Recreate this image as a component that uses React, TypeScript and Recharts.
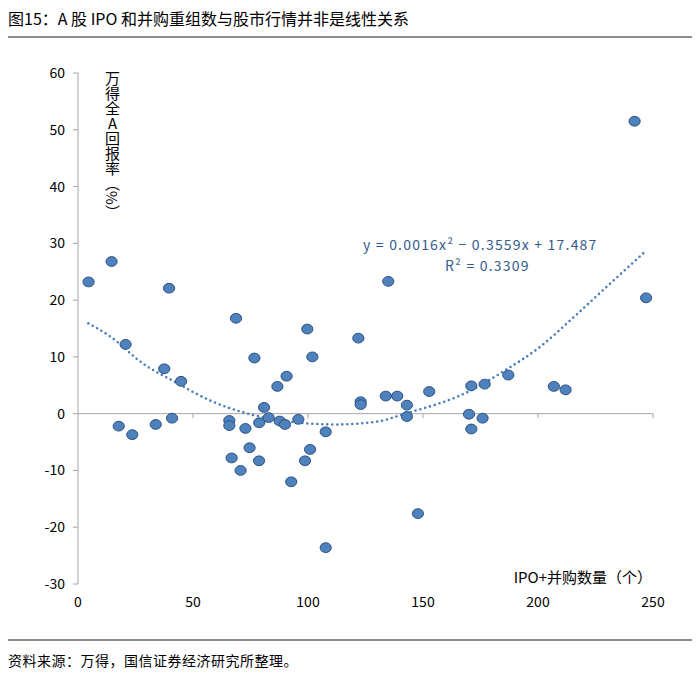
import React from 'react';
import { ComposedChart, XAxis, YAxis, Scatter, Line, ReferenceLine } from 'recharts';

// IPO + M&A count (x) and Wind All-A return % (y)
const ipoMaCount = [
  4.6, 14.6, 17.7, 20.7, 23.6, 33.8, 37.5, 39.6, 40.9, 44.8,
  65.8, 65.8, 66.8, 68.7, 70.7, 72.8, 74.6, 76.7, 78.7, 78.8,
  80.9, 82.9, 86.7, 87.7, 90.0, 90.7, 92.7, 95.8, 98.7, 99.7,
  100.9, 101.9, 107.7, 107.7, 121.9, 122.9, 122.9, 133.8, 134.9, 138.8,
  143.0, 143.0, 147.8, 152.7, 170.0, 171.0, 171.0, 175.9, 176.8, 187.1,
  206.9, 212.0, 242.0, 247.0,
];
const windAReturn = [
  23.2, 26.8, -2.2, 12.2, -3.7, -1.9, 7.9, 22.1, -0.8, 5.7,
  -1.2, -2.1, -7.8, 16.8, -10.0, -2.6, -6.0, 9.8, -8.3, -1.6,
  1.1, -0.7, 4.8, -1.3, -1.9, 6.6, -12.0, -1.0, -8.3, 14.9,
  -6.3, 10.0, -3.2, -23.6, 13.3, 2.1, 1.6, 3.1, 23.3, 3.1,
  1.5, -0.5, -17.6, 3.9, -0.1, 4.9, -2.7, -0.8, 5.2, 6.8,
  4.8, 4.2, 51.5, 20.4,
];

// polynomial trendline
const trendX = [4.5, 14, 28, 43, 57, 73, 79, 99, 112, 130, 143, 157, 165, 186, 201, 215, 230, 247];
const trendY = [15.9, 13.6, 8.9, 5.4, 2.4, 0.1, -0.5, -1.7, -1.9, -1.4, 0.1, 1.8, 3.0, 7.7, 11.8, 16.8, 22.4, 28.7];

const xTicks = [0, 50, 100, 150, 200, 250];
const yTicks = [-30, -20, -10, 0, 10, 20, 30, 40, 50, 60];
const xTickMarks = [50, 100, 150, 200, 250];

const titleText = '图15：A 股 IPO 和并购重组数与股市行情并非是线性关系';
const sourceText = '资料来源：万得，国信证券经济研究所整理。';
const equationText = 'y = 0.0016x² − 0.3559x + 17.487';
const r2Text = 'R² = 0.3309';
const xLabel = 'IPO+并购数量（个）';

const points = ipoMaCount.map((x, i) => ({ x, y: windAReturn[i] }));
const trend = trendX.map((x, i) => ({ x, t: trendY[i] }));

const FONT = '"Noto Sans CJK SC", "Noto Sans", sans-serif';
const AXIS = '#A6A6A6';

const Dot = (p: any) => (
  <ellipse cx={p.cx} cy={p.cy} rx={5.6} ry={4.9} fill="#4F81BD" stroke="#2C5282" strokeWidth={1} />
);

export default function App() {
  return (
    <div style={{ position: 'relative', left: -8, top: -8, width: 700, height: 677, background: '#fff', fontFamily: FONT, overflow: 'hidden' }}>
      <div style={{ position: 'absolute', left: 8, top: 7, fontSize: 16, lineHeight: '22px', color: '#000', whiteSpace: 'nowrap' }}>
        {titleText}
      </div>
      <div style={{ position: 'absolute', left: 0, top: 36, width: 698, height: 2, background: '#8C8C8C' }} />

      <div style={{ position: 'absolute', left: 0, top: 0 }}>
        <ComposedChart width={700} height={677} margin={{ top: 73, right: 47, bottom: 63, left: 18 }}>
          <XAxis
            dataKey="x"
            type="number"
            domain={[0, 250]}
            ticks={xTicks}
            interval={0}
            axisLine={false}
            tickLine={false}
            tickSize={0}
            tickMargin={13}
            height={30}
            tick={{ fontSize: 14, fill: '#000', fontFamily: FONT }}
          />
          <YAxis
            type="number"
            domain={[-30, 60]}
            ticks={yTicks}
            interval={0}
            width={60}
            axisLine={{ stroke: AXIS }}
            tickLine={{ stroke: AXIS }}
            tickSize={5}
            tickMargin={8}
            tick={{ fontSize: 14, fill: '#000', fontFamily: FONT }}
          />
          <ReferenceLine y={0} stroke={AXIS} strokeWidth={1} />
          {xTickMarks.map((v) => (
            <ReferenceLine key={v} segment={[{ x: v, y: 0 }, { x: v, y: -0.8 }]} stroke={AXIS} strokeWidth={1} />
          ))}
          <Scatter data={points} dataKey="y" shape={Dot} isAnimationActive={false} />
          <Line
            data={trend}
            dataKey="t"
            type="monotone"
            stroke="#4A7EBB"
            strokeWidth={2.6}
            strokeDasharray="0 5"
            strokeLinecap="round"
            dot={false}
            activeDot={false}
            isAnimationActive={false}
          />
        </ComposedChart>
      </div>

      <div style={{ position: 'absolute', left: 103, top: 71, fontSize: 15, lineHeight: '18px', color: '#000', writingMode: 'vertical-rl' as any }}>
        万得全<span style={{ textOrientation: 'upright' as any }}>A</span>回报率（%）
      </div>

      <div style={{ position: 'absolute', left: 363, top: 234, fontSize: 14, lineHeight: '20px', color: '#335B8C', whiteSpace: 'nowrap', letterSpacing: 1.2 }}>
        {equationText}
      </div>
      <div style={{ position: 'absolute', left: 445, top: 255, fontSize: 14, lineHeight: '20px', color: '#335B8C', whiteSpace: 'nowrap', letterSpacing: 1.2 }}>
        {r2Text}
      </div>

      <div style={{ position: 'absolute', right: 48, top: 566, fontSize: 15, lineHeight: '22px', color: '#000', whiteSpace: 'nowrap' }}>
        {xLabel}
      </div>

      <div style={{ position: 'absolute', left: 0, top: 639, width: 698, height: 2, background: '#8C8C8C' }} />
      <div style={{ position: 'absolute', left: 8, top: 650, fontSize: 14, lineHeight: '20px', color: '#000', whiteSpace: 'nowrap', letterSpacing: 0.5 }}>
        {sourceText}
      </div>
    </div>
  );
}
